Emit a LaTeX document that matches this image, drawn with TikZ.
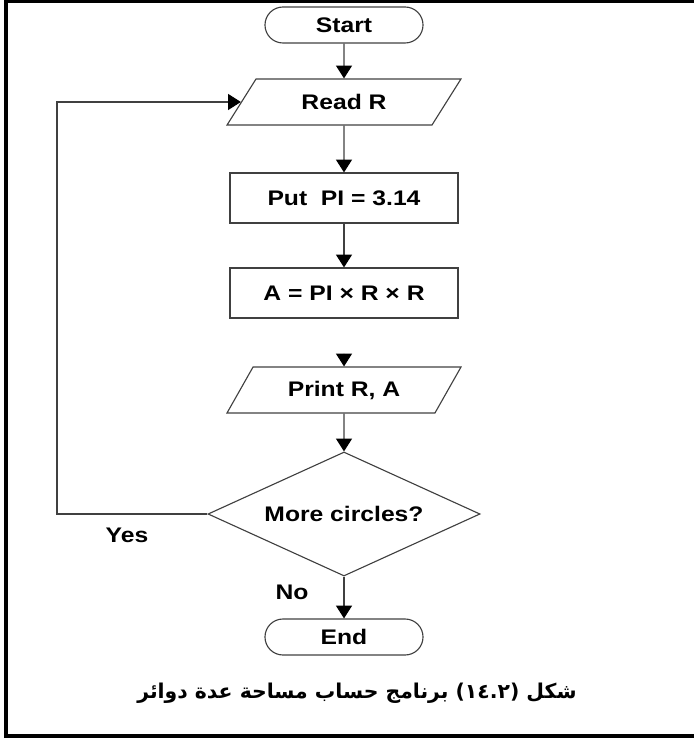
\documentclass[tikz,border=0pt]{standalone}
\usepackage{fontspec}
\setmainfont{Liberation Sans}[FakeStretch=1.17]
\newfontfamily\arabicfont[Script=Arabic]{DejaVu Sans}
\TeXXeTstate=1
\usetikzlibrary{arrows.meta, shapes.geometric}

\begin{document}
\begin{tikzpicture}[
    x=0.025cm, y=-0.025cm,
    every node/.style={font=\fontsize{15}{18}\selectfont\bfseries},
    terminal/.style={draw=black!75, line width=0.8pt, minimum width=3.95cm, minimum height=0.9cm, rounded corners=0.45cm},
    process/.style={draw=black!75, line width=0.8pt, minimum width=5.7cm, minimum height=1.25cm},
    io/.style={draw=black!75, line width=0.8pt, trapezium, trapezium left angle=58, trapezium right angle=122, trapezium stretches=true, minimum width=5.85cm, minimum height=1.15cm},
    decision/.style={draw=black!75, line width=0.8pt, diamond, aspect=2.2, minimum width=6.8cm, minimum height=3.1cm, inner sep=0pt},
    arrow/.style={-{Triangle[length=0.32cm, width=0.4cm, color=black]}, draw=black!75, line width=0.8pt}
]
\useasboundingbox (0,0) rectangle (694,740);

% frame, open on the right
\draw[line width=2.2pt] (694,1.5) -- (6,1.5) -- (6,736) -- (694,736);

% main column
\node[terminal] (start) at (344, 25) {Start};
\node[io] (read) at (344, 102) {Read R};
\node[process] (put) at (344, 198) {Put~ PI = 3.14};
\node[process] (area) at (344, 293) {A = PI × R × R};
\node[io] (print) at (344, 390) {Print R, A};
\node[decision] (cond) at (344, 514) {More circles?};
\node[terminal] (stop) at (344, 637) {End};

\node (yes) at (127, 535) {Yes};
\node (no) at (292, 592) {No};

\coordinate (gap) at (344, 354);
\coordinate (loop) at (57, 514);

\draw[arrow] (start) -- (read);
\draw[arrow] (read) -- (put);
\draw[arrow] (put) -- (area);
\draw[arrow] (gap) -- (print);
\draw[arrow] (print) -- (cond);
\draw[arrow] (cond) -- (stop);
\draw[arrow] (cond.west) -- (loop) |- (read);

% caption
\node[font=\arabicfont\fontsize{14.5}{17}\selectfont\bfseries] (caption) at (357, 693) {\beginR شكل (١٤.٢) برنامج حساب مساحة عدة دوائر\endR};

\end{tikzpicture}
\end{document}
